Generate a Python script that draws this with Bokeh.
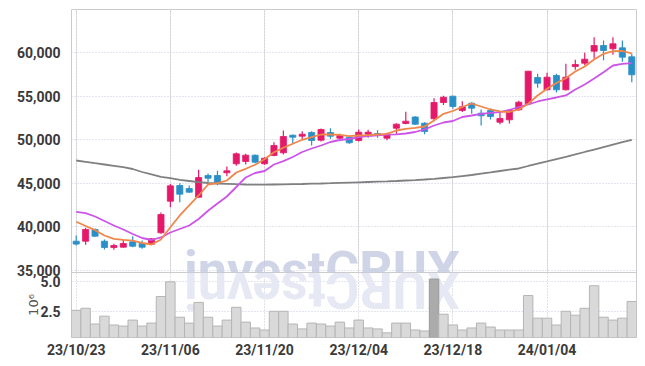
import math
from bokeh.plotting import figure
from bokeh.layouts import column
from bokeh.models import Range1d, FixedTicker, NumeralTickFormatter, Grid, ColumnDataSource, Label
from bokeh.embed import file_html
from bokeh.resources import INLINE

# ---- data ----
opens = [38335, 38335, 39680, 38335, 37610, 37645, 38265, 38070, 37990, 39300,
         42935, 44740, 44395, 43395, 45890, 45890, 46200, 47235, 47500, 48225,
         47235, 48190, 48500, 50525, 50410, 50835, 49950, 50835, 50180, 50295,
         49915, 50640, 50720, 50180, 51330, 51870, 52620, 51905, 52410, 54285,
         55010, 53365, 54205, 53055, 53365, 52020, 52295, 53445, 54135, 57160,
         55745, 57390, 55745, 58425, 58805, 60185, 60840, 60460, 60575, 59540]
highs = [39000, 39875, 39800, 38530, 38040, 38500, 38910, 38415, 38700, 41635,
         44900, 45005, 44740, 46545, 46120, 46430, 46925, 48535, 48385, 48300,
         48000, 49720, 51065, 50600, 50985, 50985, 51300, 51330, 50700, 50400,
         51180, 51150, 51100, 50800, 51905, 53215, 52700, 52020, 54780, 55050,
         55050, 54440, 54320, 53480, 53600, 53250, 53480, 54500, 57885, 57585,
         57700, 57585, 58735, 59195, 59995, 61795, 61410, 61795, 61420, 59885]
lows = [37840, 37920, 38850, 37380, 37345, 37600, 37645, 37460, 37950, 39185,
        42250, 42820, 43900, 43325, 45120, 44775, 45810, 47005, 47150, 47300,
        47120, 48110, 48305, 49605, 50030, 49340, 49800, 50110, 50100, 49550,
        49800, 50230, 50230, 49950, 50685, 51790, 51700, 50640, 52300, 54000,
        53560, 53190, 52990, 51640, 52330, 51790, 51870, 53330, 54135, 55975,
        55700, 55440, 55665, 58040, 58575, 59310, 59150, 59770, 58960, 56620]
closes = [38000, 39680, 38910, 37610, 37840, 38070, 37760, 37645, 38610, 41400,
          44700, 43740, 43970, 45660, 45580, 45005, 46430, 48385, 48225, 47420,
          47880, 49340, 50375, 50295, 50640, 49915, 51180, 50410, 50490, 49650,
          50870, 50870, 50490, 50570, 51790, 52135, 51790, 50950, 54285, 54895,
          53825, 53790, 53630, 52755, 52675, 52445, 53365, 54320, 57885, 56505,
          57195, 55745, 57195, 58655, 59265, 60840, 60265, 61035, 59495, 57470]
ma5 = [40566, 40083, 39600, 38990, 38611, 38496, 38393, 38128, 37956, 38531,
       39945, 41291, 42441, 43591, 44856, 45005, 45316, 46236, 46661, 47121,
       47754, 48570, 49076, 49536, 49996, 50295, 50606, 50606, 50571, 50410,
       50491, 50525, 50606, 50686, 51066, 51261, 51376, 51526, 52216, 52986,
       53308, 53768, 54171, 53826, 53481, 53251, 53193, 53481, 54136, 55091,
       55861, 56528, 57080, 57851, 58426, 59231, 59886, 60185, 60208, 59921]
ma20 = [41716, 41555, 41176, 40658, 40141, 39681, 39163, 38703, 38473, 38761,
        39336, 39738, 40141, 40888, 41831, 42671, 43476, 44568, 45661, 46178,
        46408, 47156, 47535, 48018, 48593, 48996, 49341, 49743, 49973, 50088,
        50295, 50433, 50514, 50583, 50629, 50721, 50893, 51181, 51641, 51986,
        52158, 52618, 52791, 52986, 53101, 53170, 53423, 53768, 54056, 54401,
        54654, 54861, 55091, 55781, 56356, 57046, 57770, 58541, 58736, 58805]
ma120 = [47616, 47466, 47305, 47156, 47006, 46845, 46638, 46293, 46006, 45741,
         45580, 45396, 45258, 45120, 45028, 44971, 44936, 44890, 44856, 44844,
         44844, 44856, 44867, 44890, 44913, 44948, 44971, 45005, 45040, 45074,
         45109, 45143, 45178, 45212, 45258, 45316, 45362, 45431, 45511, 45603,
         45695, 45822, 45948, 46098, 46247, 46408, 46558, 46696, 46983, 47248,
         47501, 47765, 48030, 48306, 48593, 48858, 49145, 49433, 49720, 49996]
volume_m = [2.58, 2.75, 1.43, 2.09, 1.35, 1.26, 1.76, 1.26, 1.51, 3.74,
            4.97, 2.00, 1.51, 3.24, 2.00, 1.26, 1.76, 2.83, 1.59, 1.10,
            0.93, 2.50, 2.50, 1.43, 1.02, 1.51, 1.43, 1.26, 1.59, 1.10,
            1.76, 1.10, 1.02, 0.69, 1.51, 1.51, 0.93, 0.85, 5.20, 2.25,
            1.35, 0.93, 1.10, 1.51, 1.18, 0.93, 0.93, 0.93, 3.82, 1.92,
            1.92, 1.35, 2.50, 2.17, 2.75, 4.64, 2.00, 1.76, 1.92, 3.32]
tick_labels = ["23/10/23", "23/11/06", "23/11/20", "23/12/04", "23/12/18", "24/01/04"]
price_ticks = [35000, 40000, 45000, 50000, 55000, 60000]
volume_ticks = [2.5, 5.0]

# ---- styling ----
UP = "#e5196a"
DOWN = "#2b8fc7"
FONT = "Roboto"
HGRID = "#c6cbe0"
VGRID = "#c2c2cc"
LABEL_COLOR = "#3a3a3a"
n = len(closes)
xs = list(range(n))
tick_pos = [xs[i * 10] for i in range(len(tick_labels))]

src = ColumnDataSource(dict(
    x=xs, open=opens, high=highs, low=lows, close=closes,
    top=[max(o, c) for o, c in zip(opens, closes)],
    bottom=[min(o, c) for o, c in zip(opens, closes)],
    color=[UP if c >= o else DOWN for o, c in zip(opens, closes)],
    ma5=ma5, ma20=ma20, ma120=ma120,
))
vsrc = ColumnDataSource(dict(
    x=xs, vol=volume_m,
    fill=["#ababab" if i == 38 else "#d9d9d9" for i in xs],
    line=["#999999" if i == 38 else "#b5b5b5" for i in xs],
))

xr = Range1d(-0.5, n - 0.5)


def style_axis(ax, size):
    ax.axis_line_color = None
    ax.major_tick_line_color = None
    ax.minor_tick_line_color = None
    ax.major_label_text_font = FONT
    ax.major_label_text_font_size = size
    ax.major_label_text_font_style = "bold"
    ax.major_label_text_color = LABEL_COLOR


# ---- price panel (its canvas reaches below the frame, transparent there) ----
p1 = figure(width=637, height=320, x_range=xr, y_range=Range1d(34735, 64980),
            x_axis_location=None, toolbar_location=None, output_backend="svg",
            min_border_left=71, min_border_right=1, min_border_top=9, min_border_bottom=48)
p1.outline_line_color = "#cccccc"
p1.border_fill_color = None
p1.styles = {"z-index": "2", "position": "relative"}

p1.yaxis.ticker = FixedTicker(ticks=price_ticks)
p1.yaxis.formatter = NumeralTickFormatter(format="0,0")
style_axis(p1.yaxis[0], "14px")
p1.yaxis.major_label_standoff = 5
p1.ygrid.ticker = FixedTicker(ticks=price_ticks)
p1.ygrid.grid_line_color = HGRID
p1.ygrid.grid_line_dash = "1 2"
p1.add_layout(Grid(dimension=0, ticker=FixedTicker(ticks=tick_pos),
                   grid_line_color=VGRID, grid_line_dash="1 2"))

p1.segment(x0="x", y0="low", x1="x", y1="high", color="color", line_width=1.2, source=src)
p1.vbar(x="x", top="top", bottom="bottom", width=0.65, fill_color="color",
        line_color="color", line_width=0.8, source=src)
p1.line("x", "ma120", color="#808080", line_width=1.8, source=src)
p1.line("x", "ma20", color="#cc55e8", line_width=1.8, source=src)
p1.line("x", "ma5", color="#f0874a", line_width=1.8, source=src)

# watermark (semi-transparent so the grid still shows through)
p1.add_layout(Label(x=26.1, y=34965, text="investCRUX", text_font="Roboto",
                    text_font_style="bold", text_font_size="52px", text_color="#c3c9e1",
                    text_alpha=0.8, text_align="center", text_baseline="alphabetic"))

# ---- volume panel ----
p2 = figure(width=637, height=108, x_range=xr, y_range=Range1d(0.3, 5.75),
            toolbar_location=None, output_backend="svg",
            min_border_left=71, min_border_right=1, min_border_top=14, min_border_bottom=29)
p2.margin = (-62, 0, 0, 0)
p2.border_fill_color = None
p2.outline_line_color = "#cccccc"

# mirrored watermark, under the bars
p2.add_layout(Label(x=26.1, y=4.33, text="XURCtsevni", angle=math.pi, text_font="Roboto",
                    text_font_style="bold", text_font_size="52px", text_color="#e6e8f3",
                    text_align="center", text_baseline="middle", level="underlay"))
p2.vbar(x="x", top="vol", bottom=0, width=1.0, fill_color="fill", line_color="line",
        line_width=1, source=vsrc)

p2.yaxis.ticker = FixedTicker(ticks=volume_ticks)
p2.yaxis.major_label_overrides = {2.5: "2.5", 5.0: "5.0"}
style_axis(p2.yaxis[0], "14px")
p2.yaxis.major_label_standoff = 5
p2.yaxis.axis_label = "10⁶"
p2.yaxis.axis_label_text_font = "DejaVu Sans"
p2.yaxis.axis_label_text_font_style = "normal"
p2.yaxis.axis_label_text_font_size = "13px"
p2.yaxis.axis_label_text_color = "#555555"
p2.yaxis.axis_label_standoff = -4
p2.ygrid.ticker = FixedTicker(ticks=volume_ticks)
p2.ygrid.grid_line_color = HGRID
p2.ygrid.grid_line_dash = "1 2"

p2.xaxis.ticker = FixedTicker(ticks=tick_pos)
p2.xaxis.major_label_overrides = {t: lab for t, lab in zip(tick_pos, tick_labels)}
style_axis(p2.xaxis[0], "14px")
p2.xaxis.major_label_standoff = -2
p2.xgrid.ticker = FixedTicker(ticks=tick_pos)
p2.xgrid.grid_line_color = VGRID
p2.xgrid.grid_line_dash = "1 2"

layout = column(p1, p2, spacing=0)
open("out.html", "w").write(file_html(layout, INLINE))
